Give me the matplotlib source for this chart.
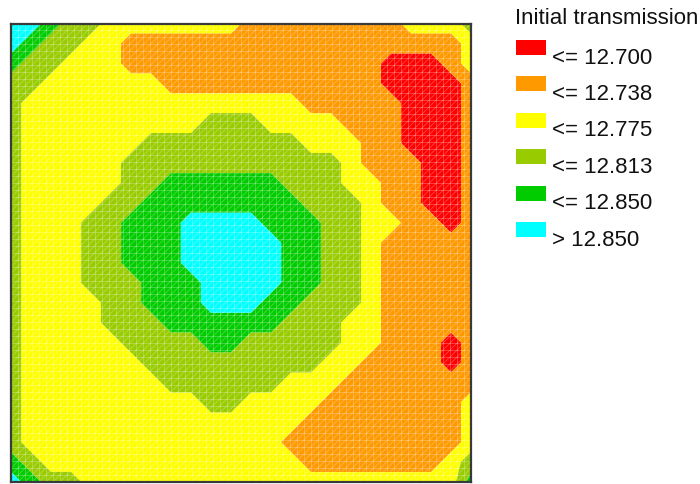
import numpy as np
import matplotlib
matplotlib.use("Agg")
import matplotlib.pyplot as plt
from matplotlib.collections import LineCollection
from matplotlib.patches import Rectangle

plt.rcParams['font.family'] = ['Liberation Sans', 'DejaVu Sans']

# ---- data -----------------------------------------------------------------
legend_title = "Initial transmission"
band_labels = ["<= 12.700", "<= 12.738", "<= 12.775", "<= 12.813", "<= 12.850", "> 12.850"]
band_levels = [12.60, 12.700, 12.738, 12.775, 12.813, 12.850, 12.95]
band_colors = ["#FF0000", "#FF9900", "#FFFF00", "#99CC00", "#00CC00", "#00FFFF"]
# representative transmission for each band code read at the grid nodes
band_value = {"R": 12.681, "O": 12.719, "Y": 12.7565, "G": 12.794, "N": 12.8315, "C": 12.869}

# band read at a 24 x 24 grid of nodes over the plate, top row first
node_bands = [
    "CCNGGYYYYYYYOOOOOOOOYYYG",
    "CNGGYYOOOOOOOOOOOOOOOOOY",
    "NGGYYYOOOOOOOOOOOOORRROY",
    "GGYYYYYYOOOOOOOOOOORRRRO",
    "GYYYYYYYYYYYYYYOOOOORRRO",
    "GYYYYYYYYYGGGYYYYOOORRRO",
    "GYYYYYYGGGGGGGGYYYOORRRO",
    "GYYYYYGGGGGGGGGGGYOOORRO",
    "GYYYYYGGNNNNNNGGGYYOORRO",
    "GYYYYGGNNNNNNNNGGGYOORRO",
    "GYYYGGNNNCCCCNNNGGYYOORO",
    "GYYYGGNNNCCCCCNNGGYOOOOO",
    "GYYYGGNNNCCCCCNNGGYOOOOO",
    "GYYYGGGNNNCCCCNNGGYOOOOO",
    "GYYYYGGNNNCCCNNGGGYOOOOO",
    "GYYYYGGGNNNNNNGGGYYOOOOO",
    "GYYYYYGGGGNNGGGGGYYOOORO",
    "GYYYYYYGGGGGGGGGYYOOOORO",
    "GYYYYYYYGGGGGGYYYOOOOOOO",
    "GYYYYYYYYYGGYYYYOOOOOOOY",
    "GYYYYYYYYYYYYYYOOOOOOOOY",
    "GYYYYYYYYYYYYYOOOOOOOOOY",
    "NGYYYYYYYYYYYYYOOOOOOOYG",
    "CNGGYYYYYYYYYYYYYYYYYYYN",
]

# ---- figure ----------------------------------------------------------------
W, H = 700, 484
fig = plt.figure(figsize=(W / 100, H / 100), dpi=100)
ax = fig.add_axes([11 / W, 2 / H, 460 / W, 458.5 / H])

ncol = max(len(r) for r in node_bands)
rows = [r.ljust(ncol, r[-1]) for r in node_bands]
Z = np.array([[band_value[c] for c in r] for r in rows])[::-1]
xn = np.linspace(0, 1, Z.shape[1])
yn = np.linspace(0, 1, Z.shape[0])
X, Y = np.meshgrid(xn, yn)
ax.contourf(X, Y, Z, levels=band_levels, colors=band_colors, antialiased=True)

# faint triangular mesh
nmesh = 66
g = np.linspace(0, 1, nmesh + 1)
segs = [[(v, 0), (v, 1)] for v in g] + [[(0, v), (1, v)] for v in g]
for c in np.linspace(-1, 1, 2 * nmesh + 1):
    x0, x1 = max(0, c), min(1, 1 + c)
    if x1 > x0:
        segs.append([(x0, x0 - c), (x1, x1 - c)])
ax.add_collection(LineCollection(segs, colors="white", linewidths=0.6, alpha=0.28))

ax.set_xlim(0, 1)
ax.set_ylim(0, 1)
ax.set_xticks([])
ax.set_yticks([])
for s in ax.spines.values():
    s.set_color("#3a3a3a")
    s.set_linewidth(1.6)

# ---- legend ------------------------------------------------------------------
fig.text(515 / W, 1 - 23.5 / H, legend_title, fontsize=16, color="#111111",
         ha="left", va="baseline")
for k, (lab, col) in enumerate(zip(band_labels, band_colors)):
    top = 40 + k * 36.4
    fig.patches.append(Rectangle((516 / W, 1 - (top + 15) / H), 30 / W, 15 / H,
                                 transform=fig.transFigure, facecolor=col,
                                 edgecolor="none"))
    fig.text(552 / W, 1 - (top + 23.5) / H, lab, fontsize=16, color="#111111",
             ha="left", va="baseline")

fig.savefig("out.png", dpi=100)
